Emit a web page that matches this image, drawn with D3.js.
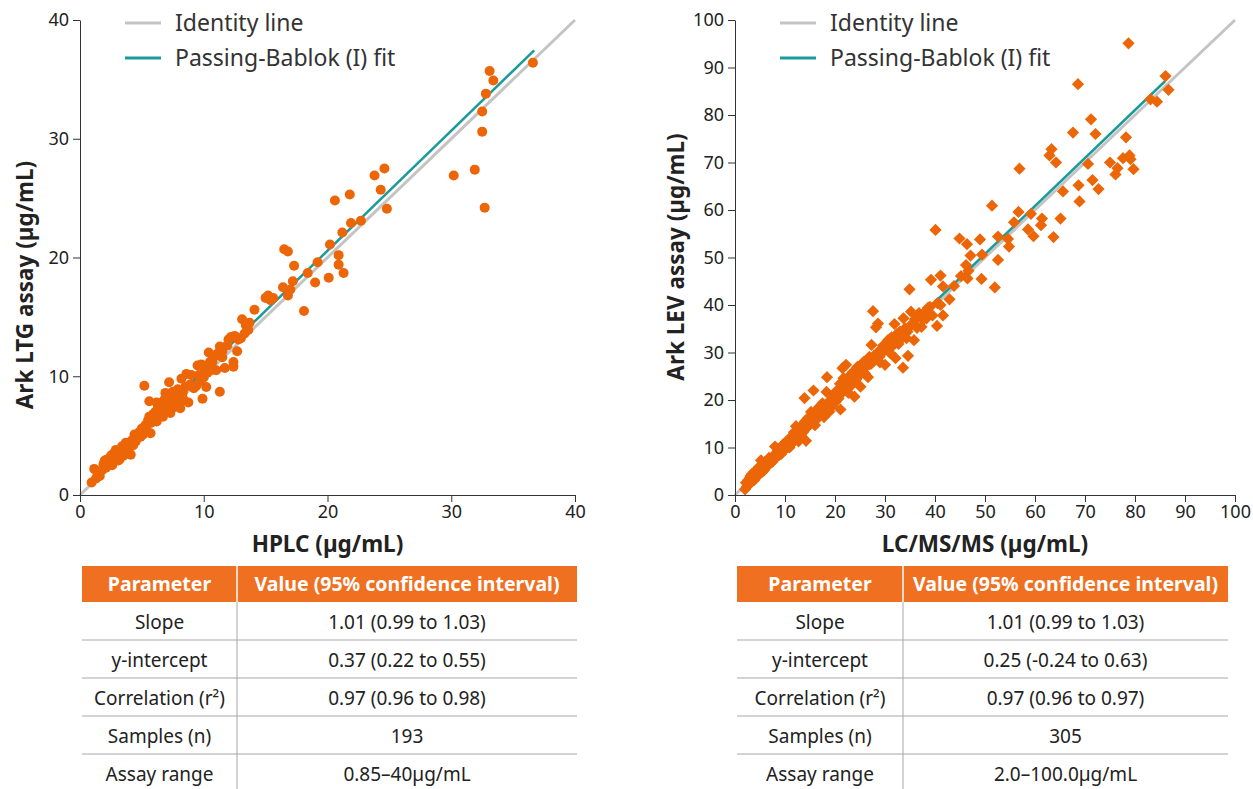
<!DOCTYPE html>
<meta charset="utf-8">

<style type="text/css">
  body {
    margin: 0;
    background: #fff;
    font-family: "Noto Sans", sans-serif;
  }

  .axis path,
  .axis line {
    stroke: #333;
    stroke-width: 1px;
  }

  .axis text {
    font-family: "Noto Sans", sans-serif;
    font-size: 18px;
    fill: #222;
  }
</style>

<body>
  <script src="https://d3js.org/d3.v7.min.js"></script>

  <script>
    // Lamotrigine: [HPLC, Ark LTG]
    var ltgPoints = [
      [0.94, 1.05], [1.15, 2.2], [1.3, 1.4], [1.4, 1.9], [1.6, 1.6], [1.8, 2.1], [1.9, 2.6], [2.0, 2.9], [2.1, 2.3],
      [2.2, 3.0], [2.4, 2.7], [2.5, 3.3], [2.6, 2.5], [2.7, 3.5], [2.8, 3.1], [2.9, 3.8], [3.0, 3.4], [3.1, 2.9],
      [3.2, 3.0], [3.3, 3.7], [3.4, 4.1], [3.5, 3.3], [3.6, 3.9], [3.7, 4.4], [3.8, 3.6], [3.9, 4.0], [4.0, 3.5],
      [4.1, 3.4], [4.2, 4.6], [4.3, 4.2], [4.4, 5.1], [4.5, 4.5], [4.6, 4.8], [4.7, 5.0], [4.8, 5.3], [4.9, 4.9],
      [5.0, 5.6], [5.1, 5.1], [5.2, 9.2], [5.3, 5.9], [5.4, 5.4], [5.5, 6.3], [5.6, 7.9], [5.6, 6.6], [5.7, 5.2],
      [5.8, 6.1], [5.9, 6.8], [6.0, 6.4], [6.1, 7.0], [6.2, 6.2], [6.2, 7.8], [6.3, 7.4], [6.4, 6.9], [6.5, 7.7],
      [6.6, 7.2], [6.7, 6.6], [6.8, 8.0], [6.9, 7.6], [6.9, 8.6], [7.0, 8.4], [7.1, 7.3], [7.2, 9.5], [7.3, 8.1],
      [7.3, 6.9], [7.4, 7.8], [7.5, 8.7], [7.6, 7.4], [7.7, 8.3], [7.8, 7.9], [7.8, 8.5], [7.9, 8.9], [8.0, 8.2],
      [8.1, 7.3], [8.2, 9.8], [8.3, 8.6], [8.4, 8.0], [8.5, 9.1], [8.6, 10.2], [8.75, 7.8], [8.9, 9.3], [9.0, 10.1],
      [9.2, 9.0], [9.4, 9.2], [9.5, 10.9], [9.6, 10.1], [9.7, 9.6], [9.8, 11.0], [9.9, 8.1], [10.0, 9.9], [10.1, 10.6],
      [10.2, 9.1], [10.3, 10.3], [10.4, 12.0], [10.5, 11.2], [10.6, 10.5], [10.7, 11.2], [10.8, 11.6], [11.0, 10.5],
      [11.1, 11.9], [11.3, 12.5], [11.3, 8.7], [11.5, 11.6], [11.5, 12.1], [11.7, 10.7], [11.9, 12.6], [12.0, 13.1],
      [12.2, 13.3], [12.4, 11.2], [12.4, 10.8], [12.5, 13.4], [12.7, 12.1], [12.8, 13.1], [13.0, 13.2], [13.1, 14.8],
      [13.3, 13.6], [13.4, 14.3], [13.6, 13.9], [13.7, 14.5],
      [14.1, 15.6], [15.0, 16.6], [15.2, 16.8], [15.4, 16.4], [15.6, 16.6], [16.4, 17.5], [16.5, 20.7], [16.8, 20.5],
      [16.8, 16.8], [17.0, 17.3], [17.2, 18.0], [17.3, 19.3], [18.1, 15.5], [18.4, 18.7], [19.0, 17.9], [19.2, 19.6],
      [20.1, 18.3], [20.2, 21.1], [20.6, 24.8], [20.9, 20.2], [20.9, 19.4], [21.2, 22.1], [21.3, 18.7], [21.8, 25.3],
      [21.9, 22.9], [22.7, 23.1], [23.8, 26.9], [24.3, 25.7], [24.6, 27.5], [24.8, 24.1],
      [30.2, 26.9], [31.9, 27.4], [32.5, 30.6], [32.5, 32.3], [32.7, 24.2], [32.8, 33.8], [33.1, 35.7], [33.4, 34.9],
      [36.6, 36.4]
    ];

    // Levetiracetam: [LC/MS/MS, Ark LEV]
    var levPoints = [
      [2.0, 1.2], [2.2, 2.6], [2.4, 1.8], [2.6, 3.1], [2.8, 2.2], [3.0, 3.6], [3.1, 4.0], [3.2, 2.9], [3.4, 4.4],
      [3.6, 3.3], [3.8, 4.8], [3.9, 3.2], [4.0, 3.9], [4.2, 4.6], [4.4, 5.3], [4.6, 4.1], [4.7, 5.2], [4.8, 5.9],
      [5.0, 4.7], [5.2, 7.3], [5.4, 5.5], [5.5, 4.9], [5.6, 6.4], [5.8, 5.2], [6.0, 6.9], [6.1, 6.0], [6.3, 6.1],
      [6.6, 7.1], [6.8, 7.8], [6.9, 6.5], [7.1, 6.8], [7.2, 7.6], [7.5, 7.0], [7.7, 7.4], [7.8, 8.3], [8.0, 10.2],
      [8.2, 7.9], [8.3, 8.9], [8.5, 9.1], [8.7, 9.6], [8.8, 8.4], [9.0, 9.7], [9.2, 8.6], [9.3, 9.0], [9.6, 10.6],
      [9.8, 10.2], [9.9, 9.5], [10.2, 11.2], [10.4, 10.9], [10.5, 10.1], [10.8, 11.7], [10.9, 10.0], [11.0, 10.5],
      [11.2, 11.8], [11.3, 12.3], [11.5, 11.0], [11.7, 11.4], [11.8, 13.2], [12.0, 12.1], [12.2, 14.5], [12.3, 13.0],
      [12.5, 12.7], [12.7, 11.3], [12.9, 12.2], [13.0, 13.9], [13.2, 12.6], [13.4, 13.8], [13.5, 14.8], [13.7, 13.3],
      [13.8, 14.2], [13.9, 20.4], [14.0, 15.5], [14.2, 11.4], [14.4, 14.2], [14.6, 15.0], [14.7, 16.3], [15.0, 14.9],
      [15.2, 17.5], [15.3, 16.0], [15.5, 15.6], [15.7, 22.0], [15.8, 16.8], [16.0, 14.7], [16.1, 16.7], [16.3, 17.9],
      [16.6, 16.2], [16.7, 17.5], [16.9, 18.6], [17.2, 17.1], [17.4, 17.8], [17.5, 19.3], [17.8, 16.4], [18.0, 18.2],
      [18.2, 18.9], [18.3, 21.7], [18.4, 24.8], [18.6, 19.0], [18.9, 17.6], [19.0, 19.3], [19.2, 20.1], [19.5, 18.8],
      [19.7, 20.6], [19.8, 21.2], [20.1, 19.6], [20.3, 21.0], [20.4, 22.0], [20.7, 20.3], [21.0, 23.4], [21.1, 18.0],
      [21.2, 22.0], [21.3, 21.4], [21.5, 26.7], [21.7, 24.6], [22.0, 22.3], [22.1, 23.1], [22.2, 27.4], [22.4, 23.9],
      [22.7, 21.5], [23.0, 25.2], [23.2, 24.0], [23.3, 23.1], [23.6, 25.9], [23.9, 20.7], [24.0, 25.4], [24.2, 24.3],
      [24.5, 27.0], [24.8, 25.1], [25.0, 26.1], [25.1, 22.8], [25.4, 26.4], [25.7, 28.0], [25.9, 26.9], [26.0, 25.6],
      [26.3, 27.3], [26.6, 24.8], [26.8, 27.5], [26.9, 29.1], [27.2, 27.6], [27.3, 31.6], [27.6, 38.7], [27.8, 29.3],
      [27.9, 28.4], [28.2, 35.3], [28.6, 36.1], [28.7, 30.2], [28.9, 29.1], [29.0, 27.9], [29.3, 29.8], [29.6, 31.4],
      [29.8, 30.6], [30.0, 27.4], [30.3, 30.9], [30.6, 32.6], [30.8, 31.8], [31.0, 29.9], [31.3, 33.2], [31.6, 31.5],
      [31.8, 33.0], [31.9, 36.0], [32.1, 28.8], [32.4, 33.9], [32.7, 31.8], [32.9, 33.6], [33.0, 34.4], [33.3, 32.9],
      [33.6, 26.8], [33.7, 37.2], [33.9, 34.1], [34.0, 35.1], [34.3, 33.0], [34.5, 34.4], [34.6, 29.3], [34.9, 43.3],
      [35.0, 35.6], [35.2, 38.6], [35.5, 36.0], [35.8, 32.6], [36.0, 37.0], [36.1, 36.8], [36.4, 35.2], [36.8, 38.3],
      [37.0, 37.8], [37.3, 35.4], [37.6, 36.9], [38.0, 38.6], [38.3, 37.2], [38.6, 39.4],
      [39.0, 39.6], [39.2, 45.3], [39.5, 37.8], [40.1, 55.8], [40.4, 35.6], [40.5, 40.4], [41.1, 40.0], [41.1, 46.2],
      [41.6, 37.8], [41.6, 43.9], [42.9, 41.2], [43.8, 44.0], [44.9, 54.0], [45.2, 46.1], [46.2, 48.4], [46.4, 52.8],
      [46.5, 45.6], [46.7, 47.2], [47.1, 50.4], [49.0, 53.8], [49.3, 45.5], [49.4, 50.6], [51.4, 60.9], [51.96, 43.7],
      [52.6, 49.5], [52.6, 54.4], [54.6, 53.9], [54.8, 52.3], [55.8, 57.4], [56.7, 59.6], [56.9, 68.7], [58.6, 55.9],
      [59.2, 59.2], [59.7, 54.5], [61.2, 56.8], [61.4, 58.2], [62.9, 71.5], [63.3, 72.8], [63.7, 54.3], [64.2, 70.0],
      [65.1, 58.2], [65.6, 63.9], [67.6, 76.3], [68.6, 86.5], [68.7, 65.2], [68.9, 61.8], [70.6, 69.7], [71.2, 79.1],
      [71.5, 66.3], [72.1, 76.0], [72.7, 64.4], [75.0, 70.0], [76.1, 67.5], [76.5, 68.8], [77.6, 70.9], [78.2, 75.3],
      [78.7, 95.1], [78.9, 71.5], [79.1, 70.7], [79.7, 68.6], [83.1, 83.3], [84.4, 82.8], [86.1, 88.2], [86.7, 85.3]
    ];

    // Passing-Bablok fits: [slope, intercept, x from, x to]
    var ltgFit = [1.01, 0.37, 0.85, 36.7];
    var levFit = [1.01, 0.25, 2.0, 86.0];

    var ltgTicks = [0, 10, 20, 30, 40];
    var levTicks = [0, 10, 20, 30, 40, 50, 60, 70, 80, 90, 100];

    var legendLabels = ['Identity line', 'Passing-Bablok (I) fit'];
    var tableHeader = ['Parameter', 'Value (95% confidence interval)'];
    var tableParams = ['Slope', 'y-intercept', 'Correlation (r²)', 'Samples (n)', 'Assay range'];
    var ltgValues = ['1.01 (0.99 to 1.03)', '0.37 (0.22 to 0.55)', '0.97 (0.96 to 0.98)', '193', '0.85–40µg/mL'];
    var levValues = ['1.01 (0.99 to 1.03)', '0.25 (-0.24 to 0.63)', '0.97 (0.96 to 0.97)', '305', '2.0–100.0µg/mL'];

    var orange = '#ec6608';
    var teal = '#1a9a9a';
    var grey = '#c4c4c4';

    var svg = d3.select('body')
      .append('svg')
      .attr('width', 1253)
      .attr('height', 789);

    function panel(cfg) {
      var x = d3.scaleLinear().domain([0, cfg.max]).range([cfg.left, cfg.right]);
      var y = d3.scaleLinear().domain([0, cfg.max]).range([495, 20]);
      var g = svg.append('g');

      // identity and fit lines
      g.append('line')
        .attr('x1', x(0)).attr('y1', y(0))
        .attr('x2', x(cfg.max)).attr('y2', y(cfg.max))
        .attr('stroke', grey).attr('stroke-width', 3);

      var fit = cfg.fit;
      g.append('line')
        .attr('x1', x(fit[2])).attr('y1', y(fit[0] * fit[2] + fit[1]))
        .attr('x2', x(fit[3])).attr('y2', y(fit[0] * fit[3] + fit[1]))
        .attr('stroke', teal).attr('stroke-width', 2.5);

      // points
      if (cfg.diamond) {
        g.selectAll('path.pt')
          .data(cfg.points)
          .enter()
          .append('path')
          .attr('class', 'pt')
          .attr('d', d3.symbol().type(d3.symbolDiamond2).size(95))
          .attr('transform', function(d) {
            return 'translate(' + x(d[0]) + ',' + y(d[1]) + ')';
          })
          .attr('fill', orange);
      } else {
        g.selectAll('circle')
          .data(cfg.points)
          .enter()
          .append('circle')
          .attr('cx', function(d) { return x(d[0]); })
          .attr('cy', function(d) { return y(d[1]); })
          .attr('r', 5)
          .attr('fill', orange);
      }

      // axes
      g.append('g')
        .attr('class', 'axis')
        .attr('transform', 'translate(0,495)')
        .call(d3.axisBottom(x).tickValues(cfg.ticks).tickSize(7).tickPadding(3).tickSizeOuter(0));

      g.append('g')
        .attr('class', 'axis')
        .attr('transform', 'translate(' + cfg.left + ',0)')
        .call(d3.axisLeft(y).tickValues(cfg.ticks).tickSize(7).tickPadding(4).tickSizeOuter(0));

      g.append('text')
        .attr('x', (cfg.left + cfg.right) / 2)
        .attr('y', 552)
        .attr('text-anchor', 'middle')
        .attr('font-size', 22.5)
        .attr('font-weight', 'bold')
        .attr('fill', '#222')
        .text(cfg.xTitle);

      g.append('text')
        .attr('transform', 'translate(' + cfg.yTitleX + ',' + cfg.yTitleY + ') rotate(-90)')
        .attr('text-anchor', 'middle')
        .attr('font-size', 22.5)
        .attr('font-weight', 'bold')
        .attr('fill', '#222')
        .text(cfg.yTitle);

      // legend
      var lg = g.selectAll('g.legend')
        .data(legendLabels)
        .enter()
        .append('g')
        .attr('class', 'legend')
        .attr('transform', function(d, i) {
          return 'translate(' + (cfg.left + 45) + ',' + (23 + i * 35) + ')';
        });

      lg.append('line')
        .attr('x1', 0).attr('x2', 36)
        .attr('stroke', function(d, i) { return i == 0 ? grey : teal; })
        .attr('stroke-width', 3);

      lg.append('text')
        .attr('x', 50)
        .attr('y', 8)
        .attr('font-size', 23)
        .attr('fill', '#333')
        .text(function(d) { return d; });

      // table
      var t = svg.append('g');
      var tx0 = cfg.left + 2, tx1 = cfg.tableDiv, tx2 = cfg.tableRight;

      t.append('rect')
        .attr('x', tx0).attr('y', 566)
        .attr('width', tx2 - tx0).attr('height', 36)
        .attr('fill', '#f07022');
      t.append('line')
        .attr('x1', tx1).attr('x2', tx1).attr('y1', 566).attr('y2', 602)
        .attr('stroke', '#fff').attr('stroke-width', 1.5);

      t.selectAll('text.head')
        .data(tableHeader)
        .enter()
        .append('text')
        .attr('class', 'head')
        .attr('x', function(d, i) { return i == 0 ? (tx0 + tx1) / 2 : (tx1 + tx2) / 2; })
        .attr('y', 591)
        .attr('text-anchor', 'middle')
        .attr('font-size', 19.5)
        .attr('font-weight', 'bold')
        .attr('fill', '#fff')
        .text(function(d) { return d; });

      t.append('line')
        .attr('x1', tx1).attr('x2', tx1).attr('y1', 602).attr('y2', 789)
        .attr('stroke', '#a8a8a8');

      var rows = t.selectAll('g.row')
        .data(tableParams)
        .enter()
        .append('g')
        .attr('class', 'row')
        .attr('transform', function(d, i) { return 'translate(0,' + (602 + i * 38) + ')'; });

      rows.filter(function(d, i) { return i < tableParams.length - 1; })
        .append('line')
        .attr('x1', tx0).attr('x2', tx2).attr('y1', 38).attr('y2', 38)
        .attr('stroke', '#a8a8a8');

      rows.append('text')
        .attr('x', (tx0 + tx1) / 2)
        .attr('y', 27)
        .attr('text-anchor', 'middle')
        .attr('font-size', 19)
        .attr('fill', '#222')
        .text(function(d) { return d; });

      rows.append('text')
        .attr('x', (tx1 + tx2) / 2)
        .attr('y', 27)
        .attr('text-anchor', 'middle')
        .attr('font-size', 19)
        .attr('fill', '#222')
        .text(function(d, i) { return cfg.values[i]; });
    }

    panel({
      max: 40, left: 80, right: 575, ticks: ltgTicks, points: ltgPoints, fit: ltgFit, diamond: false,
      xTitle: 'HPLC (µg/mL)', yTitle: 'Ark LTG assay (µg/mL)', yTitleX: 33, yTitleY: 285,
      tableDiv: 237, tableRight: 577, values: ltgValues
    });

    panel({
      max: 100, left: 735, right: 1235, ticks: levTicks, points: levPoints, fit: levFit, diamond: true,
      xTitle: 'LC/MS/MS (µg/mL)', yTitle: 'Ark LEV assay (µg/mL)', yTitleX: 684, yTitleY: 257,
      tableDiv: 903, tableRight: 1228, values: levValues
    });
  </script>
</body>
